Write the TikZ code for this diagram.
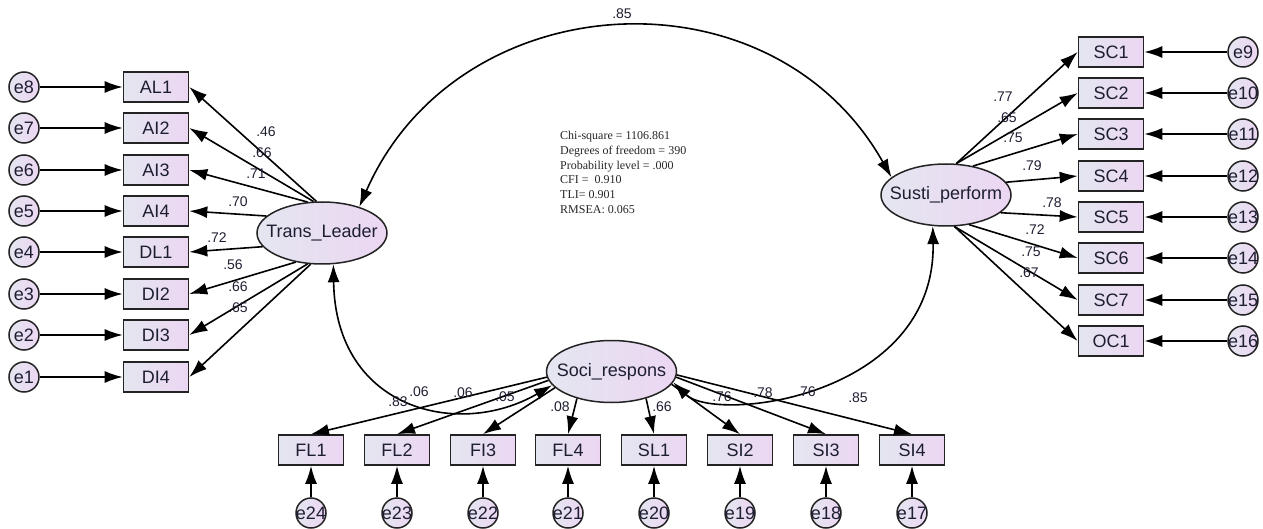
\documentclass[tikz,border=0pt]{standalone}
\usepackage{fontspec}
\setmainfont{Liberation Sans}
\newfontfamily\statfont{Liberation Serif}
\usetikzlibrary{arrows.meta,shapes.geometric}
\definecolor{fillL}{RGB}{228,230,240}
\definecolor{fillR}{RGB}{236,214,242}
\definecolor{textc}{RGB}{30,30,50}
\definecolor{linec}{RGB}{35,35,35}
\begin{document}
\begin{tikzpicture}[x=1pt,y=-1pt,
  every node/.style={text=textc},
  obs/.style={rectangle, draw=linec, line width=1.6pt, minimum width=65pt, minimum height=30pt, inner sep=0pt,
    left color=fillL, right color=fillR, font=\fontsize{18}{18}\selectfont},
  lat/.style={ellipse, draw=linec, line width=1.5pt, minimum width=130pt, minimum height=62pt, inner sep=0pt,
    left color=fillL, right color=fillR, font=\fontsize{18}{18}\selectfont},
  err/.style={circle, draw=linec, line width=1.5pt, minimum size=30pt, inner sep=0pt,
    left color=fillL, right color=fillR, font=\fontsize{18}{18}\selectfont},
  pth/.style={-{Latex[length=18pt,width=12pt]}, line width=1.6pt, draw=black},
  cov/.style={{Latex[length=18pt,width=12pt]}-{Latex[length=18pt,width=12pt]}, line width=1.6pt, draw=black},
  lab/.style={font=\fontsize{14}{14}\selectfont, inner sep=0pt},
]
\useasboundingbox (0,0) rectangle (1263,529);

% latent variables
\node[lat] (TL) at (322,233) {\makebox[0pt]{Trans\_Leader}};
\node[lat] (SP) at (946,195) {\makebox[0pt]{Susti\_perform}};
\node[lat] (SR) at (611.5,371.5) {\makebox[0pt]{Soci\_respons}};

% left indicators
\foreach \n/\e/\y in {AL1/e8/87, AI2/e7/128, AI3/e6/170, AI4/e5/211,
                     DL1/e4/252, DI2/e3/294, DI3/e2/335, DI4/e1/377}{
  \node[obs] (\n) at (156,\y) {\n};
  \node[err] (\e) at (24,\y) {\makebox[0pt]{\e}};
  \draw[pth] (\e) -- (\n.west);
}
% right indicators
\foreach \n/\e/\y in {SC1/e9/52, SC2/e10/93, SC3/e11/134, SC4/e12/176,
                     SC5/e13/217, SC6/e14/258, SC7/e15/300, OC1/e16/341}{
  \node[obs] (\n) at (1111,\y) {\n};
  \node[err] (\e) at (1243,\y) {\makebox[0pt]{\e}};
  \draw[pth] (\e) -- (\n.east);
}
% bottom indicators
\foreach \n/\e/\x in {FL1/e24/311, FL2/e23/397, FI3/e22/483, FL4/e21/568,
                     SL1/e20/654, SI2/e19/740, SI3/e18/826, SI4/e17/912}{
  \node[obs] (\n) at (\x,450) {\n};
  \node[err] (\e) at (\x,513) {\makebox[0pt]{\e}};
  \draw[pth] (\e) -- (\n.south);
}

% loadings Trans_Leader
\draw[pth] (TL.100) -- (AL1.east);
\draw[pth] (TL.105) -- (AI2.east);
\draw[pth] (TL.115) -- (AI3.east);
\draw[pth] (TL.163) -- (AI4.east);
\draw[pth] (TL.193) -- (DL1.east);
\draw[pth] (TL.228) -- (DI2.east);
\draw[pth] (TL.245) -- (DI3.east);
\draw[pth] (TL.250) -- (DI4.east);

% loadings Susti_perform
\draw[pth] (SP.72) -- (SC1.west);
\draw[pth] (SP.72) -- (SC2.west);
\draw[pth] (SP.47) -- (SC3.west);
\draw[pth] (SP.12) -- (SC4.west);
\draw[pth] (SP.342) -- (SC5.west);
\draw[pth] (SP.308) -- (SC6.west);
\draw[pth] (SP.285) -- (SC7.west);
\draw[pth] (SP.285) -- (OC1.west);

% loadings Soci_respons
\draw[pth] (SR.185) -- (FL1.north);
\draw[pth] (SR.188) -- (FL2.north);
\draw[pth] (SR.196) -- (FI3.north);
\draw[pth] (SR.218) -- (FL4.north);
\draw[pth] (SR.322) -- (SL1.north);
\draw[pth] (SR.348) -- (SI2.north);
\draw[pth] (SR.355) -- (SI3.north);
\draw[pth] (SR.357) -- (SI4.north);

% covariances
\draw[cov] (TL.35) .. controls +(98,-224) and +(-120,-213) .. (SP.162);
\draw[cov] (TL.290) .. controls +(2,146) and +(-93,54) .. (SR.193);
\draw[cov] (SR.350) .. controls +(42,41) and +(3,172) .. (SP.247);

% labels
\node[lab] (l1) at (266,132) {.46};
\node[lab] (l2) at (262,153) {.66};
\node[lab] (l3) at (256,174) {.71};
\node[lab] (l4) at (238,202) {.70};
\node[lab] (l5) at (217,238) {.72};
\node[lab] (l6) at (233,265) {.56};
\node[lab] (l7) at (238,287) {.66};
\node[lab] (l8) at (238,308) {.65};

\node[lab] (r1) at (1003,97) {.77};
\node[lab] (r2) at (1007,118) {.65};
\node[lab] (r3) at (1013,138) {.75};
\node[lab] (r4) at (1032,166) {.79};
\node[lab] (r5) at (1052,203) {.78};
\node[lab] (r6) at (1035,230) {.72};
\node[lab] (r7) at (1031,252) {.75};
\node[lab] (r8) at (1029,273) {.67};

\node[lab] (b1) at (398,402) {.83};
\node[lab] (b2) at (419,392) {.06};
\node[lab] (b3) at (463,393) {.06};
\node[lab] (b4) at (505,397) {.05};
\node[lab] (b5) at (560,407) {.08};
\node[lab] (b6) at (662,407) {.66};
\node[lab] (b7) at (722,397) {.76};
\node[lab] (b8) at (763,393) {.78};
\node[lab] (b9) at (806,392) {.76};
\node[lab] (b10) at (858,398) {.85};

\node[lab] (top) at (622,14) {.85};

% fit statistics
\node[anchor=north west, inner sep=0pt, text=black!85, align=left,
      font=\statfont\fontsize{12}{14.8}\selectfont] (stats) at (560,131)
 {Chi-square = 1106.861\\Degrees of freedom = 390\\Probability level = .000\\CFI =\ \ 0.910\\TLI= 0.901\\RMSEA: 0.065};
\end{tikzpicture}
\end{document}
